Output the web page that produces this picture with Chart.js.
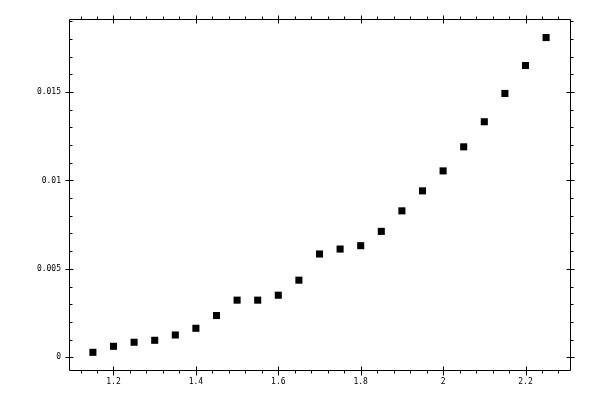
<!DOCTYPE html>
<html>
<head>
<meta charset="utf-8">
<script src="https://cdn.jsdelivr.net/npm/chart.js@4/dist/chart.umd.min.js"></script>
<style>
  html, body { margin: 0; padding: 0; background: #fff; }
  #wrap { width: 600px; height: 400px; }
</style>
</head>
<body>
<div id="wrap"><canvas id="chart"></canvas></div>
<script>
// data
const xValues = [1.15, 1.2, 1.25, 1.3, 1.35, 1.4, 1.45, 1.5, 1.55, 1.6, 1.65, 1.7,
                 1.75, 1.8, 1.85, 1.9, 1.95, 2.0, 2.05, 2.1, 2.15, 2.2, 2.25];
const yValues = [0.00028, 0.00062, 0.00085, 0.00096, 0.00126, 0.00164, 0.00236, 0.00323,
                 0.00323, 0.00351, 0.00436, 0.00584, 0.00612, 0.00631, 0.00712, 0.00828,
                 0.00941, 0.01054, 0.0119, 0.01332, 0.01492, 0.0165, 0.01808];

// axis ticks
const xMajorTicks = [1.2, 1.4, 1.6, 1.8, 2.0, 2.2];
const xMajorLabels = ['1.2', '1.4', '1.6', '1.8', '2', '2.2'];
const xMinorTicks = [1.12, 1.16, 1.24, 1.28, 1.32, 1.36, 1.44, 1.48, 1.52, 1.56,
                     1.64, 1.68, 1.72, 1.76, 1.84, 1.88, 1.92, 1.96, 2.04, 2.08,
                     2.12, 2.16, 2.24, 2.28];
const yMajorTicks = [0, 0.005, 0.01, 0.015];
const yMajorLabels = ['0', '0.005', '0.01', '0.015'];
const yMinorTicks = [0.001, 0.002, 0.003, 0.004, 0.006, 0.007, 0.008, 0.009,
                     0.011, 0.012, 0.013, 0.014, 0.016, 0.017, 0.018, 0.019];

const points = xValues.map((x, i) => ({ x: x, y: yValues[i] }));

// frame, ticks and labels drawn from the chart scales
const framePlugin = {
    id: 'frame',
    afterDraw(chart) {
        const ctx = chart.ctx;
        const area = chart.chartArea;
        const xs = chart.scales.x;
        const ys = chart.scales.y;
        const L = area.left + 0.5, R = area.right + 0.5;
        const T = area.top + 0.5, B = area.bottom + 0.5;

        ctx.save();
        ctx.strokeStyle = '#000';
        ctx.lineWidth = 1;
        ctx.beginPath();
        ctx.rect(L, T, R - L, B - T);

        xMinorTicks.forEach(v => {
            const px = Math.round(xs.getPixelForValue(v)) + 0.5;
            ctx.moveTo(px, B); ctx.lineTo(px, B + 3);
            ctx.moveTo(px, T); ctx.lineTo(px, T - 3);
        });
        xMajorTicks.forEach(v => {
            const px = Math.round(xs.getPixelForValue(v)) + 0.5;
            ctx.moveTo(px, B - 4); ctx.lineTo(px, B + 5);
            ctx.moveTo(px, T - 4); ctx.lineTo(px, T + 4);
        });
        yMinorTicks.forEach(v => {
            const py = Math.round(ys.getPixelForValue(v)) + 0.5;
            ctx.moveTo(L, py); ctx.lineTo(L + 3, py);
            ctx.moveTo(R, py); ctx.lineTo(R + 3, py);
        });
        yMajorTicks.forEach(v => {
            const py = Math.round(ys.getPixelForValue(v)) + 0.5;
            ctx.moveTo(L - 4, py); ctx.lineTo(L + 4, py);
            ctx.moveTo(R - 4, py); ctx.lineTo(R + 4, py);
        });
        ctx.stroke();

        ctx.fillStyle = '#000';
        ctx.font = '8px "DejaVu Sans Mono", monospace';
        ctx.textAlign = 'center';
        ctx.textBaseline = 'middle';
        xMajorTicks.forEach((v, i) => {
            ctx.fillText(xMajorLabels[i], xs.getPixelForValue(v), area.bottom + 12);
        });
        ctx.textAlign = 'right';
        yMajorTicks.forEach((v, i) => {
            ctx.fillText(yMajorLabels[i], area.left - 8, ys.getPixelForValue(v));
        });
        ctx.restore();
    }
};

const chart = new Chart(document.getElementById('chart').getContext('2d'), {
    type: 'scatter',
    data: {
        datasets: [{
            data: points,
            pointStyle: 'rect',
            pointRadius: 5,
            pointHoverRadius: 5,
            pointBorderWidth: 0,
            backgroundColor: '#000',
            borderColor: '#000'
        }]
    },
    options: {
        responsive: true,
        maintainAspectRatio: false,
        animation: false,
        devicePixelRatio: 1,
        layout: { padding: { left: 69, right: 30, top: 19, bottom: 30 } },
        plugins: {
            legend: { display: false },
            tooltip: { enabled: false }
        },
        scales: {
            x: { type: 'linear', display: false, min: 1.092, max: 2.308 },
            y: { type: 'linear', display: false, min: -0.00072, max: 0.01913 }
        }
    },
    plugins: [framePlugin]
});
</script>
</body>
</html>
